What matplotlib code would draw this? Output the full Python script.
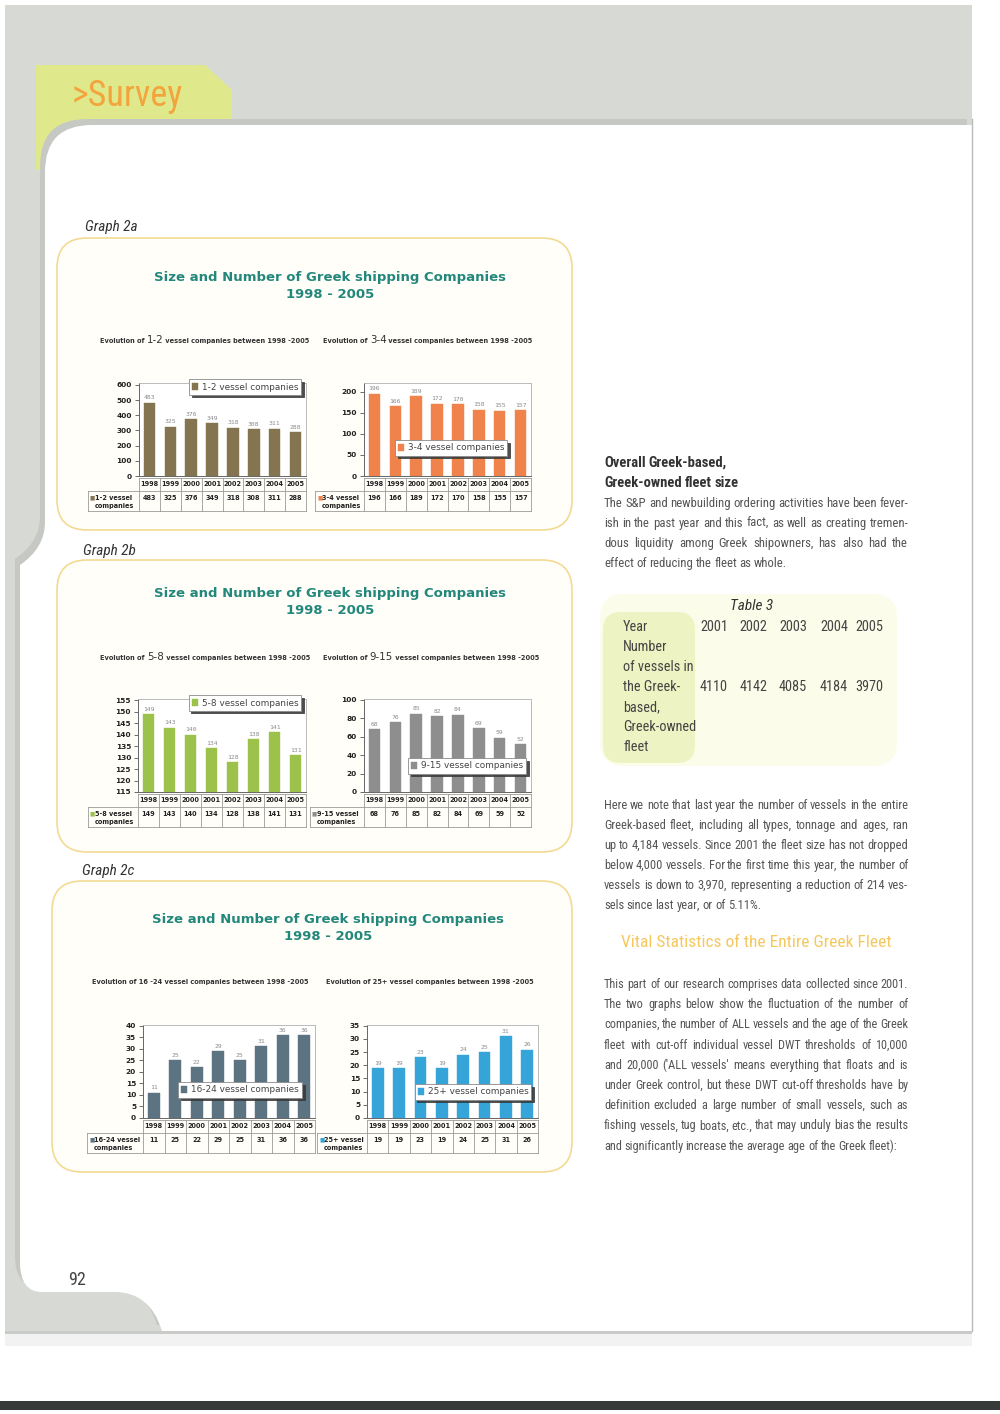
import matplotlib
matplotlib.use('Agg')
import matplotlib.pyplot as plt
from matplotlib.patches import FancyBboxPatch, Polygon, Rectangle, PathPatch
from matplotlib.path import Path
from matplotlib import font_manager
import numpy as np

# data
years = ['1998', '1999', '2000', '2001', '2002', '2003', '2004', '2005']
groups = ['1-2', '3-4', '5-8', '9-15', '16-24', '25+']
co_1_2 = [483, 325, 376, 349, 318, 308, 311, 288]
co_3_4 = [196, 166, 189, 172, 170, 158, 155, 157]
co_5_8 = [149, 143, 140, 134, 128, 138, 141, 131]
co_9_15 = [68, 76, 85, 82, 84, 69, 59, 52]
co_16_24 = [11, 25, 22, 29, 25, 31, 36, 36]
co_25p = [19, 19, 23, 19, 24, 25, 31, 26]

t3_years = ['2001', '2002', '2003', '2004', '2005']
t3_vessels = [4110, 4142, 4085, 4184, 3970]

W, H = 1000, 1414
fig = plt.figure(figsize=(W / 100, H / 100), dpi=100)
fig.patch.set_facecolor('white')
bg = fig.add_axes([0, 0, 1, 1])
bg.set_xlim(0, W)
bg.set_ylim(H, 0)
bg.axis('off')
R = fig.canvas.get_renderer()

names = {f.name for f in font_manager.fontManager.ttflist}
NARROW = next((n for n in ['Liberation Sans Narrow', 'Roboto Condensed', 'Open Sans Condensed']
               if n in names), 'DejaVu Sans')
NF = dict(family=[NARROW, 'DejaVu Sans'], fontstretch='condensed')


def tw(t):
    return t.get_window_extent(renderer=R).width


# ---- page background ----
bg.add_patch(Rectangle((5, 5), 967, 1326, fc='#d7dad4', ec='none', zorder=0))
bg.add_patch(Polygon([(36, 170), (36, 65), (205, 65), (232, 90), (232, 135), (36, 170)],
                     closed=True, fc='#dfe98c', ec='none', zorder=1))
M, L, C, Z = Path.MOVETO, Path.LINETO, Path.CURVE3, Path.CLOSEPOLY
verts = [(972, 125), (92, 125), (45, 125), (45, 172), (45, 522), (45, 548), (20, 565),
         (20, 1262), (20, 1292), (42, 1292), (115, 1292), (150, 1292), (162, 1331),
         (972, 1331), (972, 125)]
codes = [M, L, C, C, L, C, C, L, C, C, L, C, C, L, Z]
panel = Path(verts, codes)
shadow = Path([(x - 5, y - 6) for x, y in verts], codes)
bg.add_patch(PathPatch(shadow, fc='#c6c9c3', ec='none', zorder=1.5))
bg.add_patch(PathPatch(panel, fc='white', ec='none', zorder=2))
bg.plot([972, 972], [119, 1331], color='#b9bbb8', lw=1, zorder=2.5)
bg.add_patch(Rectangle((5, 1331), 967, 3, fc='#c9cbc8', ec='none', zorder=2))
bg.add_patch(Rectangle((5, 1334), 967, 12, fc='#f1f2f1', ec='none', zorder=2))
bg.add_patch(Rectangle((0, 1401), W, 9, fc='#363a39', ec='none', zorder=2))
bg.text(72, 106, '>Survey', color='#f3a43c', fontsize=26, va='baseline', zorder=3, **NF)
bg.text(68, 1285, '92', color='#444444', fontsize=13, va='baseline', zorder=3, **NF)

# ---- graph boxes ----
boxes = [(57, 238, 515, 292), (57, 560, 515, 292), (52, 881, 520, 291)]
for (x, y, w, h) in boxes:
    bg.add_patch(FancyBboxPatch((x, y), w, h, boxstyle='round,pad=0,rounding_size=30',
                                fc='#fffef9', ec='#f3da93', lw=1.2, zorder=3))
for lbl, x, y in [('Graph 2a', 85, 231), ('Graph 2b', 83, 555), ('Graph 2c', 82, 875)]:
    bg.text(x, y, lbl, fontsize=11, fontstyle='italic', color='#333333', va='baseline',
            zorder=4, **NF)
for cx, y in [(330, 277), (330, 593), (328, 919)]:
    for k, s in enumerate(['Size and Number of Greek shipping Companies', '1998 - 2005']):
        bg.text(cx, y + 18 * k, s, ha='center', va='center', fontsize=9.5, fontweight='bold',
                color='#23877b', zorder=4)


def put_runs(x, y, runs):
    for s, size, wt in runs:
        t = bg.text(x, y, s, fontsize=size, fontweight=wt, color='#333333',
                    va='baseline', zorder=4)
        x += tw(t)


def subtitle(x, y, g, big=True):
    if big:
        put_runs(x, y, [('Evolution of ', 4.8, 'bold'), (g, 7.4, 'normal'),
                        (' vessel companies between 1998 -2005', 4.8, 'bold')])
    else:
        put_runs(x, y, [('Evolution of %s vessel companies between 1998 -2005' % g, 4.8, 'bold')])


def chart(vals, color, box, ylim, yticks, leg_c, g, lab_left):
    l, r, t, b = box
    ax = fig.add_axes([l / W, 1 - b / H, (r - l) / W, (b - t) / H])
    x = np.arange(len(years))
    ax.bar(x, vals, width=0.55, color=color, edgecolor=color, lw=0.3,
           label='%s vessel companies' % g, zorder=2)
    ax.set_xlim(-0.5, len(years) - 0.5)
    ax.set_ylim(*ylim)
    ax.set_yticks(yticks)
    ax.set_yticklabels([str(v) for v in yticks], fontsize=5.3, fontweight='bold', color='#222222')
    ax.set_xticks([])
    ax.tick_params(axis='y', length=3, width=0.6, color='#555555', pad=2)
    for s in ['top', 'right']:
        ax.spines[s].set_color('#b0b0b0')
        ax.spines[s].set_linewidth(0.6)
    for s in ['left', 'bottom']:
        ax.spines[s].set_color('#666666')
        ax.spines[s].set_linewidth(0.7)
    off = (ylim[1] - ylim[0]) * 0.025
    for xi, v in zip(x, vals):
        ax.text(xi, v + off, str(v), ha='center', va='bottom', fontsize=4.6,
                color='#8c8c8c', family='DejaVu Sans Mono')
    leg = ax.legend(loc='center', bbox_to_anchor=leg_c, bbox_transform=bg.transData,
                    fontsize=6.4, frameon=True, fancybox=False,
                    shadow={'color': '#3a3a3a', 'alpha': 0.9},
                    handlelength=0.7, handleheight=0.7, handletextpad=0.4, borderpad=0.35)
    leg.get_frame().set_edgecolor('#8a8a8a')
    leg.get_frame().set_linewidth(0.6)
    for txt in leg.get_texts():
        txt.set_color('#444444')

    # data table under the chart
    n = len(years)
    cw = (r - l) / n
    y0, y1, y2 = b + 2, b + 15, b + 35
    lc = dict(color='#9a9a9a', lw=0.6, zorder=4)
    bg.plot([l, r], [y0, y0], **lc)
    bg.plot([lab_left, r], [y1, y1], **lc)
    bg.plot([lab_left, r], [y2, y2], **lc)
    bg.plot([lab_left, lab_left], [y1, y2], **lc)
    for i in range(n + 1):
        bg.plot([l + i * cw, l + i * cw], [y0, y2], **lc)
    for i, (yr, v) in enumerate(zip(years, vals)):
        cx = l + (i + 0.5) * cw
        bg.text(cx, (y0 + y1) / 2, yr, ha='center', va='center', fontsize=4.7,
                fontweight='bold', color='#222222', zorder=5)
        bg.text(cx, y1 + 7, str(v), ha='center', va='center', fontsize=4.7,
                fontweight='bold', color='#222222', zorder=5)
    bg.text(lab_left + 2, y1 + 7, '■', ha='left', va='center', fontsize=4, color=color, zorder=5)
    bg.text(lab_left + 7, y1 + 7, '%s vessel' % g, ha='left', va='center', fontsize=4.7,
            fontweight='bold', color='#222222', zorder=5)
    bg.text(lab_left + 7, y1 + 15, 'companies', ha='left', va='center', fontsize=4.7,
            fontweight='bold', color='#222222', zorder=5)
    return ax


chart(co_1_2, '#857450', (139, 306, 383, 476), (0, 612), range(0, 601, 100), (245, 387), groups[0], 88)
chart(co_3_4, '#f0834c', (364, 531, 383, 476), (0, 221), range(0, 201, 50), (451, 448), groups[1], 315)
chart(co_5_8, '#9dc24c', (138, 306, 699, 792), (115, 155.5), range(115, 156, 5), (245, 703), groups[2], 88)
chart(co_9_15, '#8e8e8e', (364, 531, 699, 792), (0, 101), range(0, 101, 20), (467, 766), groups[3], 310)
chart(co_16_24, '#5c7382', (143, 315, 1025, 1118), (0, 40.3), range(0, 41, 5), (240, 1090), groups[4], 87)
chart(co_25p, '#35a5d9', (367, 538, 1025, 1118), (0, 35.3), range(0, 36, 5), (473, 1092), groups[5], 317)

subtitle(100, 343, groups[0])
subtitle(323, 343, groups[1])
subtitle(100, 660, groups[2])
subtitle(323, 660, groups[3])
subtitle(92, 984, '16 -24', big=False)
subtitle(326, 984, '25+', big=False)

# ---- right text column ----
X0, X1 = 604, 908
BODY = 9.9


def make_line(line, y, size, color, weight):
    words = line.split()
    ts = [bg.text(0, y, w, fontsize=size, va='baseline', color=color, fontweight=weight,
                  zorder=4, **NF) for w in words]
    return ts, [tw(t) for t in ts]


def paragraph(lines, y, step=20.2, size=BODY, justify_last=False, color='#555555', weight='normal'):
    space = size * 0.22 * 100 / 72
    made = [make_line(ln, y + i * step, size, color, weight) for i, ln in enumerate(lines)]
    f = 1.0
    for ts, ws in made:
        nat = sum(ws) + space * (len(ws) - 1)
        f = min(f, (X1 - X0) / nat)
    for i, (ts, ws) in enumerate(made):
        ws = [w * f for w in ws]
        for t in ts:
            t.set_fontsize(size * f)
        last = i == len(made) - 1
        if len(ws) > 1 and (not last or justify_last):
            gap = (X1 - X0 - sum(ws)) / (len(ws) - 1)
        else:
            gap = space * f
        x = X0
        for t, w in zip(ts, ws):
            t.set_x(x)
            x += w + gap


paragraph(['Overall Greek-based,'], 467, size=10.5, color='#333333', weight='bold')
paragraph(['Greek-owned fleet size'], 487, size=10.5, color='#333333', weight='bold')
paragraph(['The S&P and newbuilding ordering activities have been fever-',
           'ish in the past year and this fact, as well as creating tremen-',
           'dous liquidity among Greek shipowners, has also had the',
           'effect of reducing the fleet as whole.'], 507, step=20)

# Table 3
bg.add_patch(FancyBboxPatch((600, 594), 297, 172, boxstyle='round,pad=0,rounding_size=24',
                            fc='#fbfce9', ec='none', zorder=3))
bg.add_patch(FancyBboxPatch((603, 612), 92, 151, boxstyle='round,pad=0,rounding_size=18',
                            fc='#edf3c2', ec='none', zorder=3))
bg.text(752, 610, 'Table 3', ha='center', va='baseline', fontsize=11, fontstyle='italic',
        color='#333333', zorder=4, **NF)
t3_rows = ['Year', 'Number', 'of vessels in', 'the Greek-', 'based,', 'Greek-owned', 'fleet']
for i, s in enumerate(t3_rows):
    bg.text(623, 631 + 20 * i, s, ha='left', va='baseline', fontsize=10.3, color='#444444',
            zorder=4, **NF)
t3_x = [714, 753, 793, 834, 869]
for x, yr, v in zip(t3_x, t3_years, t3_vessels):
    bg.text(x, 631, yr, ha='center', va='baseline', fontsize=10.3, color='#444444', zorder=4, **NF)
    bg.text(x, 691, str(v), ha='center', va='baseline', fontsize=10.3, color='#444444', zorder=4, **NF)

paragraph(['Here we note that last year the number of vessels in the entire',
           'Greek-based fleet, including all types, tonnage and ages, ran',
           'up to 4,184 vessels.  Since 2001 the fleet size has not dropped',
           'below 4,000 vessels. For the first time this year, the number of',
           'vessels is down to 3,970, representing a reduction of 214 ves-',
           'sels since last year, or of 5.11%.'], 809, step=20)

bg.text(756, 947, 'Vital Statistics of the Entire Greek Fleet', ha='center', va='baseline',
        fontsize=12.5, color='#f5c85e', zorder=4, **NF)

paragraph(['This part of our research comprises data collected since 2001.',
           'The two graphs below show the fluctuation of the number of',
           'companies, the number of ALL vessels and the age of the Greek',
           'fleet with cut-off individual vessel DWT thresholds of 10,000',
           "and 20,000 ('ALL vessels' means everything that floats and is",
           'under Greek control, but these DWT cut-off thresholds have by',
           'definition excluded a large number of small vessels, such as',
           'fishing vessels, tug boats, etc., that may unduly bias the results',
           'and significantly increase the average age of the Greek fleet):'], 988, step=20.2)

fig.savefig('out.png', dpi=100)
